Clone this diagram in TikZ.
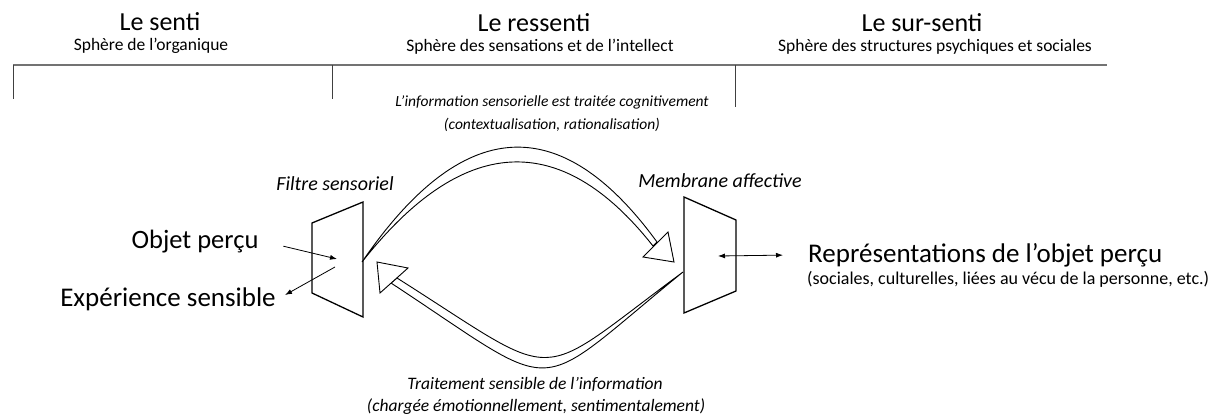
\documentclass[tikz,border=0pt]{standalone}
\usepackage{fontspec}
\setmainfont{Carlito}
\usetikzlibrary{arrows.meta}

\begin{document}
\begin{tikzpicture}[x=1pt,y=-1pt,
    title/.style={anchor=base,inner sep=0pt,font=\fontsize{26}{30}\selectfont},
    sphere/.style={anchor=base,inner sep=0pt,font=\fontsize{17.5}{21}\selectfont},
    big/.style={anchor=base,font=\fontsize{26.5}{30}\selectfont},
    note/.style={anchor=base,inner sep=1pt,font=\fontsize{15.5}{19}\selectfont\itshape},
    screen/.style={draw,line width=1.3pt,line join=miter},
    bent/.style={draw,fill=white,line width=0.9pt,line join=miter},
    thin/.style={line width=0.8pt,-{Latex[length=7pt,width=5pt]}}]

  \useasboundingbox (0,0) rectangle (1216,417);

  \node (LS)  at (160,31)  [title]  {Le senti};
  \node (LR)  at (534,32)  [title]  {Le ressenti};
  \node (LSS) at (922,32)  [title]  {Le sur-senti};
  \node (SO)  at (151,51)  [sphere] {Sphère de l’organique};
  \node (SS)  at (540,52)  [sphere] {Sphère des sensations et de l’intellect};
  \node (SP)  at (935,52)  [sphere] {Sphère des structures psychiques et sociales};

  \draw [black!55,line width=1.2pt] (13,65) -- (1107,65);
  \draw [black!75,line width=1pt]
    (13,65) -- (13,99)  (332,65) -- (332,99)  (735,65) -- (735,107);

  \node (CT1) at (552,107) [note] {L’information sensorielle est traitée cognitivement};
  \node (CT2) at (552,130) [note] {(contextualisation, rationalisation)};
  \node (CB1) at (535,389) [note,font=\fontsize{17.5}{21}\selectfont\itshape] {Traitement sensible de l’information};
  \node (CB2) at (536,411) [note,font=\fontsize{17.5}{21}\selectfont\itshape] {(chargée émotionnellement, sentimentalement)};

  \node (FL) at (335,190) [note,font=\fontsize{20}{24}\selectfont\itshape] {Filtre sensoriel};
  \node (ML) at (720,188) [note,font=\fontsize{20}{24}\selectfont\itshape] {Membrane affective};

  \node (OP) at (195,248) [big] {Objet perçu};
  \node (EX) at (168,306) [big,font=\fontsize{27}{31}\selectfont] {Expérience sensible};
  \node (R)  at (808,262) [big,anchor=base west,inner sep=0pt,font=\fontsize{27}{31}\selectfont] {Représentations de l’objet perçu};
  \node (R2) at (807,284) [sphere,anchor=base west,font=\fontsize{18}{21}\selectfont] {(sociales, culturelles, liées au vécu de la personne, etc.)};

  \draw [screen] (312,223) -- (363,202) -- (363,317) -- (312,293) -- cycle;
  \draw [screen] (684,197) -- (736,220) -- (736,291) -- (684,313) -- cycle;

  \coordinate (FI) at (337,259);
  \coordinate (FO) at (335,267);
  \coordinate (EE) at (285,295);
  \coordinate (MC) at (718,256);
  \coordinate (U0) at (362,262);
  \coordinate (B0) at (683,272);

  \path
    (OP.east) edge [thin,shorten <=22pt] (FI)
    (FO)      edge [thin]                (EE)
    (MC)      edge [line width=0.8pt,{Latex[length=7pt,width=5pt]}-{Latex[length=7pt,width=5pt]},shorten >=25pt] (R.west);

  \filldraw [bent] (U0) .. controls (462,116) and (560,109) .. (657,242)
    -- (653,246) .. controls (560,128) and (462,135) .. cycle;
  \filldraw [bent] (643,257) -- (674,262) -- (668,232) -- cycle;

  \filldraw [bent] (B0) .. controls (528,398) and (566,398) .. (391,283)
    -- (397,278) .. controls (566,385) and (530,385) .. cycle;
  \filldraw [bent] (408,268) -- (377,262) -- (380,293) -- cycle;
\end{tikzpicture}
\end{document}
